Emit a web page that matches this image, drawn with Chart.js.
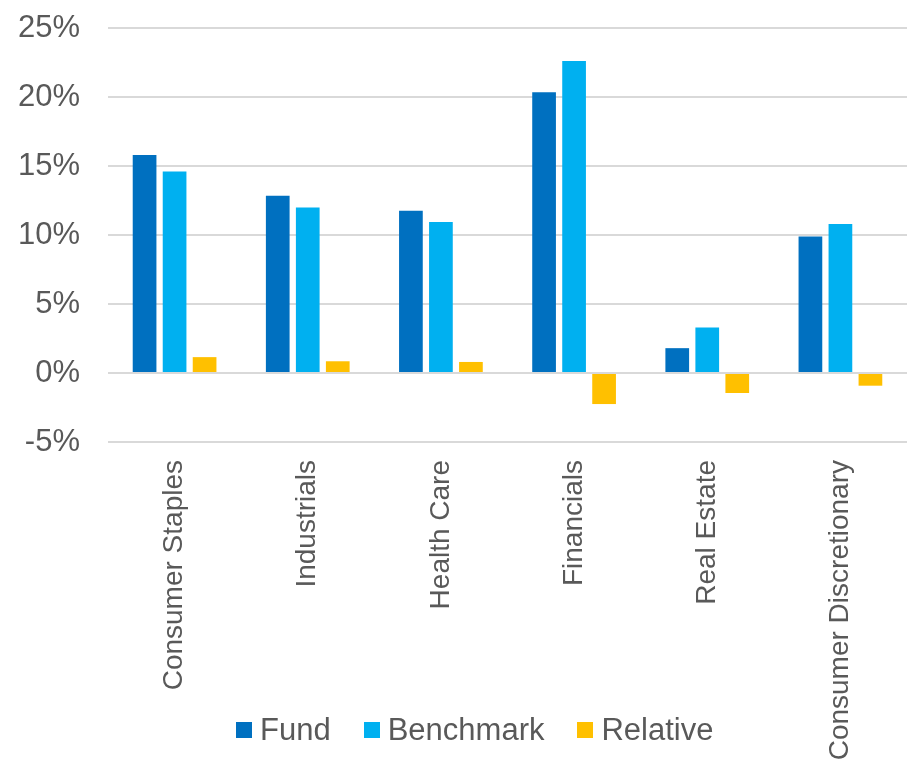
<!DOCTYPE html>
<html>
<head>
<meta charset="utf-8">
<script src="https://cdn.jsdelivr.net/npm/chart.js@4.4.1/dist/chart.umd.min.js"></script>
<style>
  html, body { margin: 0; padding: 0; background: #fff; }
  #wrap { position: relative; width: 907px; height: 764px; overflow: hidden; }
  #legend { position: absolute; top: 712px; left: 236px; display: flex; align-items: center;
            font-family: "Liberation Sans", Arial, sans-serif; font-size: 31px; color: #595959; white-space: nowrap; }
  .item { display: flex; align-items: center; }
  .box { width: 16px; height: 16px; margin-right: 8px; }
</style>
</head>
<body>
<div id="wrap">
  <canvas id="c" width="907" height="764"></canvas>
  <div id="legend"></div>
</div>
<script>
const categories = ["Consumer Staples", "Industrials", "Health Care", "Financials", "Real Estate", "Consumer Discretionary"];
const fund = [15.8, 12.85, 11.75, 20.35, 1.8, 9.9];
const benchmark = [14.6, 12.0, 10.95, 22.6, 3.3, 10.8];
const relative = [1.15, 0.85, 0.8, -2.25, -1.45, -0.92];
const seriesNames = ["Fund", "Benchmark", "Relative"];
const seriesColors = ["#0070c0", "#00b0f0", "#ffc000"];
const yTicks = [-5, 0, 5, 10, 15, 20, 25];

const font = "'Liberation Sans', Arial, sans-serif";
const values = [fund, benchmark, relative];

const chart = new Chart(document.getElementById('c'), {
  type: 'bar',
  data: {
    labels: categories,
    datasets: seriesNames.map((n, i) => ({
      label: n,
      data: values[i],
      backgroundColor: seriesColors[i],
      borderWidth: 0,
      categoryPercentage: 0.676,
      barPercentage: 0.79
    }))
  },
  options: {
    responsive: false,
    animation: false,
    layout: { padding: { top: 28, right: 0, left: 0, bottom: 0 } },
    plugins: { legend: { display: false }, tooltip: { enabled: false } },
    scales: {
      x: {
        grid: { display: false, drawTicks: false },
        border: { display: false },
        ticks: {
          color: '#595959',
          font: { family: font, size: 28 },
          maxRotation: 90, minRotation: 90,
          autoSkip: false,
          padding: 18
        },
        afterFit: (s) => { s.height = 322; s.paddingTop = 0; s.paddingBottom = 0; s.paddingRight = 0; s.paddingLeft = 0; }
      },
      y: {
        min: -5, max: 25,
        afterBuildTicks: (s) => { s.ticks = yTicks.map(v => ({ value: v })); },
        grid: { color: '#d9d9d9', lineWidth: 2, drawTicks: false },
        border: { display: false },
        ticks: {
          color: '#595959',
          font: { family: font, size: 31 },
          padding: 28,
          callback: (v) => v + '%'
        },
        afterFit: (s) => { s.width = 108; s.paddingTop = 0; s.paddingBottom = 0; }
      }
    }
  }
});

const lg = document.getElementById('legend');
seriesNames.forEach((n, i) => {
  const it = document.createElement('div');
  it.className = 'item';
  it.style.marginRight = i < 2 ? '33px' : '0';
  const b = document.createElement('div');
  b.className = 'box';
  b.style.background = seriesColors[i];
  const t = document.createElement('span');
  t.textContent = n;
  it.appendChild(b); it.appendChild(t);
  lg.appendChild(it);
});
</script>
</body>
</html>
